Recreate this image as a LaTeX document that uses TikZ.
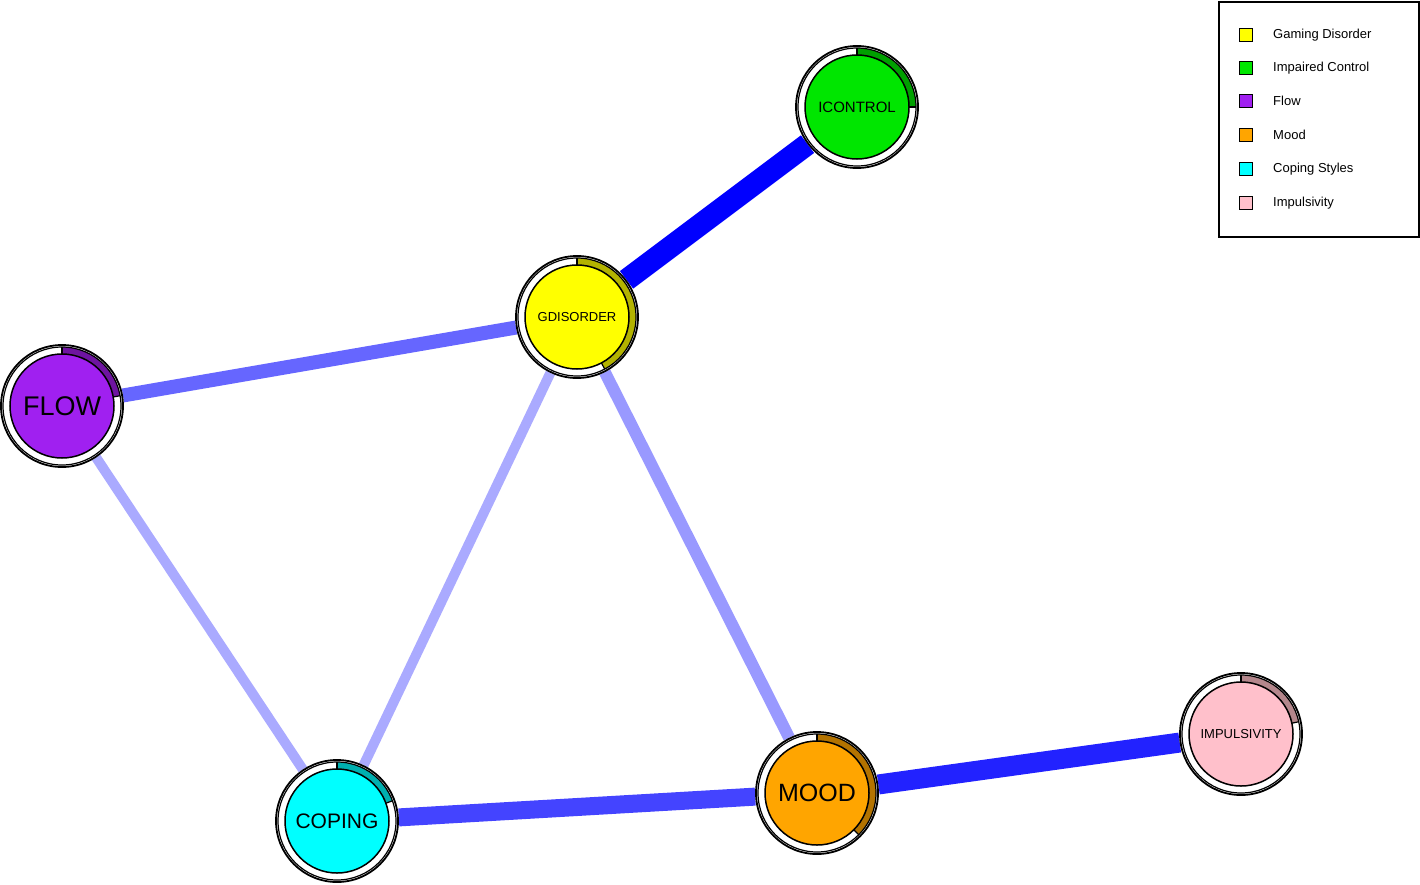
\documentclass[tikz,border=0pt]{standalone}
\usepackage{fontspec}
\setmainfont{Liberation Sans}
\usetikzlibrary{backgrounds}
\definecolor{cY}{RGB}{255,255,0}\definecolor{dY}{RGB}{179,179,0}
\definecolor{cG}{RGB}{0,230,0}\definecolor{dG}{RGB}{0,160,0}
\definecolor{cP}{RGB}{160,32,240}\definecolor{dP}{RGB}{110,20,160}
\definecolor{cO}{RGB}{255,165,0}\definecolor{dO}{RGB}{179,115,0}
\definecolor{cC}{RGB}{0,255,255}\definecolor{dC}{RGB}{0,175,175}
\definecolor{cK}{RGB}{255,192,203}\definecolor{dK}{RGB}{180,135,140}
\tikzset{
 outer/.style={circle,draw=black,line width=1.8pt,fill=white,minimum size=122pt,inner sep=0pt},
 legsq/.style={draw=black,line width=1pt,minimum size=13pt,inner sep=0pt},
 legtx/.style={anchor=west,font=\fontsize{13}{15}\selectfont,inner sep=0pt},
 edge/.style={line width=#1}
}
\newcommand{\pienode}[7]{% name,x,y,fill,dark,endangle,label+font
 \node[outer] (#1) at (#2,#3) {};
 \draw[#5,line width=7pt] (#1.center) ++(90:55.5pt) arc[start angle=90,end angle=#6,radius=55.5pt];
 \draw[black,line width=1.2pt] (#1.center) circle[radius=59pt];
 \draw[black,line width=1.2pt] (#1.center) ++(90:52pt) -- ++(90:7pt);
 \draw[black,line width=1.2pt] (#1.center) ++(#6:52pt) -- ++(#6:7pt);
 \node[circle,draw=black,line width=1.5pt,fill=#4,minimum size=104pt,inner sep=0pt] (#1in) at (#1.center) {#7};
}
\begin{document}
\begin{tikzpicture}[x=1pt,y=-1pt]
\useasboundingbox (0,0) rectangle (1420,884);
\pienode{ic}{857}{107}{cG}{dG}{0}{\fontsize{15}{17}\selectfont ICONTROL}
\pienode{gd}{577}{317}{cY}{dY}{-62}{\fontsize{13}{15}\selectfont GDISORDER}
\pienode{fl}{62}{406}{cP}{dP}{10}{\fontsize{27}{30}\selectfont FLOW}
\pienode{co}{337}{821}{cC}{dC}{20}{\fontsize{21}{24}\selectfont COPING}
\pienode{mo}{817}{793}{cO}{dO}{-45}{\fontsize{25}{28}\selectfont MOOD}
\pienode{im}{1241}{734}{cK}{dK}{12}{\fontsize{13}{15}\selectfont IMPULSIVITY}
\begin{pgfonlayer}{background}
\draw[edge=22pt,color={rgb,255:red,0;green,0;blue,255}] (gd) -- (ic);
\draw[edge=14pt,color={rgb,255:red,102;green,102;blue,255}] (gd) -- (fl);
\draw[edge=10pt,color={rgb,255:red,170;green,170;blue,255}] (fl) -- (co);
\draw[edge=10pt,color={rgb,255:red,170;green,170;blue,255}] (gd) -- (co);
\draw[edge=12pt,color={rgb,255:red,153;green,153;blue,255}] (gd) -- (mo);
\draw[edge=18pt,color={rgb,255:red,68;green,68;blue,255}] (co) -- (mo);
\draw[edge=20pt,color={rgb,255:red,34;green,34;blue,255}] (mo) -- (im);
\end{pgfonlayer}
\node[draw=black,line width=1.5pt,minimum width=200pt,minimum height=235pt,inner sep=0pt,anchor=north west] (leg) at (1218,1) {};
\foreach \c/\t/\y [count=\i] in {cY/Gaming Disorder/35,cG/Impaired Control/68,cP/Flow/101,cO/Mood/135,cC/Coping Styles/169,cK/Impulsivity/203}{
 \node[legsq,fill=\c] (sq\i) at (1246,\y) {};
 \node[legtx] (lt\i) at (1273,\y) {\t};
}
\end{tikzpicture}
\end{document}
